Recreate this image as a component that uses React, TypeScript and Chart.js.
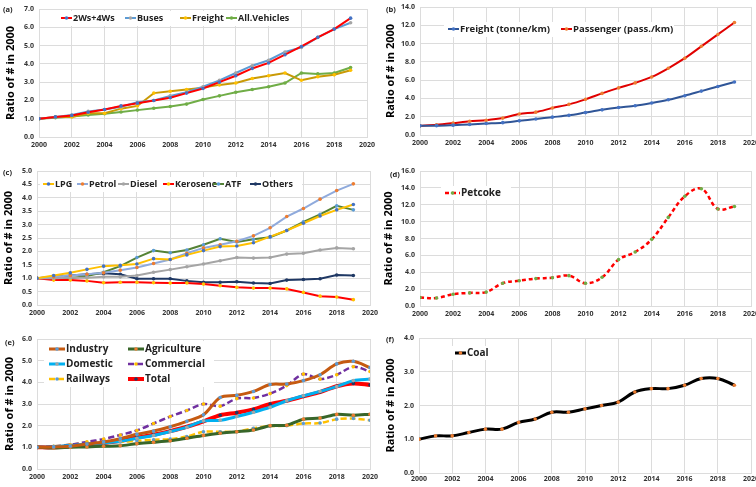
import React, { useEffect, useRef } from "react";
import { Chart, registerables } from "chart.js";
Chart.register(...registerables);

const FONT = "'Open Sans', 'DejaVu Sans', sans-serif";

const years = [2000, 2001, 2002, 2003, 2004, 2005, 2006, 2007, 2008, 2009, 2010, 2011, 2012, 2013, 2014, 2015, 2016, 2017, 2018, 2019];
const yearsE = [...years, 2020];
const xTickLabels = ["2000", "2002", "2004", "2006", "2008", "2010", "2012", "2014", "2016", "2018", "2020"];

// (a) vehicles
const twoFourWs = [1.0, 1.1, 1.18, 1.35, 1.5, 1.7, 1.85, 2.0, 2.15, 2.4, 2.65, 3.0, 3.35, 3.75, 4.05, 4.5, 4.95, 5.45, 5.9, 6.5];
const buses = [1.0, 1.1, 1.2, 1.4, 1.5, 1.65, 1.9, 2.0, 2.25, 2.45, 2.75, 3.1, 3.5, 3.9, 4.2, 4.65, 4.9, 5.45, 5.9, 6.25];
const freightVeh = [1.0, 1.1, 1.1, 1.3, 1.3, 1.55, 1.7, 2.4, 2.5, 2.6, 2.7, 2.85, 2.95, 3.2, 3.35, 3.5, 3.1, 3.3, 3.4, 3.65];
const allVehicles = [1.0, 1.05, 1.12, 1.2, 1.27, 1.37, 1.47, 1.57, 1.67, 1.8, 2.05, 2.25, 2.45, 2.6, 2.75, 2.95, 3.5, 3.45, 3.5, 3.8];

// (b) rail traffic
const freightTkm = [1.0, 1.02, 1.08, 1.15, 1.25, 1.35, 1.55, 1.75, 1.95, 2.15, 2.45, 2.75, 3.0, 3.2, 3.5, 3.85, 4.3, 4.8, 5.3, 5.8];
const passengerPkm = [1.0, 1.12, 1.3, 1.5, 1.62, 1.85, 2.3, 2.5, 2.95, 3.35, 3.9, 4.55, 5.15, 5.7, 6.35, 7.3, 8.4, 9.7, 11.0, 12.3];

// (c) petroleum products
const lpg = [1.0, 1.1, 1.2, 1.33, 1.45, 1.48, 1.53, 1.73, 1.7, 1.87, 2.03, 2.18, 2.2, 2.32, 2.55, 2.78, 3.05, 3.32, 3.55, 3.75];
const petrol = [1.0, 1.05, 1.1, 1.15, 1.2, 1.3, 1.4, 1.55, 1.7, 1.93, 2.13, 2.25, 2.38, 2.58, 2.88, 3.3, 3.6, 3.95, 4.27, 4.52];
const diesel = [1.0, 1.0, 1.02, 1.02, 1.05, 1.05, 1.1, 1.22, 1.32, 1.43, 1.53, 1.65, 1.77, 1.75, 1.77, 1.9, 1.93, 2.05, 2.13, 2.1];
const kerosene = [1.0, 0.93, 0.93, 0.9, 0.83, 0.85, 0.85, 0.83, 0.82, 0.82, 0.78, 0.72, 0.66, 0.63, 0.63, 0.6, 0.47, 0.33, 0.3, 0.2];
const atf = [1.0, 1.0, 1.0, 1.08, 1.22, 1.45, 1.77, 2.03, 1.95, 2.05, 2.25, 2.47, 2.35, 2.45, 2.53, 2.78, 3.1, 3.38, 3.7, 3.55];
const others = [1.0, 1.05, 1.1, 1.15, 1.18, 1.15, 0.98, 0.98, 0.98, 0.9, 0.85, 0.85, 0.87, 0.82, 0.8, 0.93, 0.95, 0.98, 1.12, 1.1];

// (d) petcoke
const petcoke = [1.0, 0.95, 1.4, 1.55, 1.65, 2.7, 3.0, 3.25, 3.35, 3.6, 2.7, 3.4, 5.5, 6.4, 7.9, 10.5, 13.0, 13.9, 11.5, 11.8];

// (e) electricity by sector (2000-2020)
const industry = [1.0, 1.02, 1.05, 1.15, 1.25, 1.4, 1.6, 1.75, 1.95, 2.2, 2.5, 3.3, 3.4, 3.58, 3.9, 3.92, 4.08, 4.35, 4.85, 4.97, 4.68];
const agriculture = [1.0, 0.97, 1.0, 1.02, 1.05, 1.07, 1.17, 1.23, 1.3, 1.42, 1.55, 1.65, 1.72, 1.8, 2.0, 2.02, 2.3, 2.35, 2.52, 2.48, 2.53];
const domestic = [1.0, 1.02, 1.08, 1.15, 1.2, 1.28, 1.42, 1.55, 1.73, 1.93, 2.22, 2.25, 2.42, 2.62, 2.85, 3.15, 3.38, 3.58, 3.8, 4.08, 4.15];
const commercial = [1.0, 1.05, 1.12, 1.25, 1.38, 1.57, 1.78, 2.1, 2.42, 2.7, 3.0, 2.9, 3.25, 3.28, 3.48, 3.85, 4.38, 4.15, 4.35, 4.72, 4.5];
const railways = [1.0, 1.05, 1.12, 1.2, 1.27, 1.25, 1.3, 1.35, 1.38, 1.5, 1.72, 1.72, 1.72, 1.88, 1.98, 2.0, 2.1, 2.12, 2.3, 2.33, 2.25];
const totalE = [1.0, 1.0, 1.05, 1.12, 1.2, 1.3, 1.45, 1.58, 1.75, 1.95, 2.2, 2.48, 2.6, 2.75, 3.0, 3.15, 3.35, 3.55, 3.82, 3.95, 3.88];

// (f) coal
const coal = [1.0, 1.1, 1.1, 1.2, 1.3, 1.3, 1.5, 1.6, 1.8, 1.8, 1.9, 2.0, 2.1, 2.4, 2.5, 2.5, 2.6, 2.8, 2.8, 2.6];

const yTitle = "Ratio of # in 2000";

function pts(xs: number[], ys: number[]) {
  return ys.map((y, i) => ({ x: xs[i], y }));
}

function ds(label: string, xs: number[], ys: number[], color: string, marker: string, width: number, extra: any = {}) {
  return {
    label,
    data: pts(xs, ys),
    borderColor: color,
    backgroundColor: color,
    borderWidth: width,
    pointRadius: 1.8,
    pointBorderWidth: 0,
    pointBackgroundColor: marker,
    pointBorderColor: marker,
    fill: false,
    ...extra,
  };
}

const decorPlugin = {
  id: "decor",
  afterDraw(chart: any, _args: any, opts: any) {
    const ctx = chart.ctx;
    ctx.save();
    if (opts.box) {
      ctx.fillStyle = "#ffffff";
      ctx.fillRect(opts.box[0], opts.box[1], opts.box[2], opts.box[3]);
    }
    (opts.items || []).forEach((it: any) => {
      const d = chart.data.datasets[it.i];
      const len = opts.sample;
      ctx.strokeStyle = d.borderColor;
      ctx.lineWidth = d.borderWidth;
      ctx.setLineDash(d.borderDash || []);
      ctx.beginPath();
      ctx.moveTo(it.x, it.y);
      ctx.lineTo(it.x + len, it.y);
      ctx.stroke();
      ctx.setLineDash([]);
      ctx.fillStyle = d.pointBackgroundColor;
      ctx.beginPath();
      ctx.arc(it.x + len / 2, it.y, 1.8, 0, Math.PI * 2);
      ctx.fill();
      ctx.fillStyle = "#222222";
      ctx.font = `bold ${opts.fontSize}px ${FONT}`;
      ctx.textBaseline = "middle";
      ctx.textAlign = "left";
      ctx.fillText(d.label, it.x + len + 1, it.y + 0.5);
    });
    ctx.fillStyle = "#222222";
    ctx.font = `bold 7.5px ${FONT}`;
    ctx.textBaseline = "middle";
    ctx.textAlign = "left";
    ctx.fillText(opts.tag, opts.tagX, opts.tagY);
    ctx.restore();
  },
};

type Panel = {
  key: string;
  left: number;
  top: number;
  width: number;
  height: number;
  datasets: any[];
  yMax: number;
  yStep: number;
  pad: { left: number; top: number; right: number; bottom: number };
  yW: number;
  xH: number;
  xPad: number;
  decor: any;
};

const panels: Panel[] = [
  {
    key: "a", left: 0, top: 0, width: 378, height: 160,
    datasets: [
      ds("2Ws+4Ws", years, twoFourWs, "#FF0000", "#4472C4", 2),
      ds("Buses", years, buses, "#5B9BD5", "#A5A5A5", 2),
      ds("Freight", years, freightVeh, "#C99A06", "#FFC000", 2),
      ds("All.Vehicles", years, allVehicles, "#70AD47", "#70AD47", 2),
    ],
    yMax: 7, yStep: 1,
    pad: { left: 4, top: 9, right: 11, bottom: 3 }, yW: 35, xH: 20, xPad: 4,
    decor: {
      tag: "(a)", tagX: 3, tagY: 10, fontSize: 9, sample: 11,
      box: [57, 11, 240, 15],
      items: [{ i: 0, x: 61, y: 18 }, { i: 1, x: 125, y: 18 }, { i: 2, x: 180, y: 18 }, { i: 3, x: 226, y: 18 }],
    },
  },
  {
    key: "b", left: 378, top: 0, width: 378, height: 160,
    datasets: [
      ds("Freight (tonne/km)", years, freightTkm, "#2F5597", "#4472C4", 2, { tension: 0.3 }),
      ds("Passenger (pass./km)", years, passengerPkm, "#E00000", "#ED7D31", 2, { tension: 0.3 }),
    ],
    yMax: 14, yStep: 2,
    pad: { left: 6, top: 7, right: 5, bottom: 5 }, yW: 36, xH: 20, xPad: 4,
    decor: {
      tag: "(b)", tagX: 8, tagY: 10, fontSize: 9.5, sample: 11,
      box: [66, 22, 230, 15],
      items: [{ i: 0, x: 70, y: 29 }, { i: 1, x: 183, y: 29 }],
    },
  },
  {
    key: "c", left: 0, top: 160, width: 378, height: 162,
    datasets: [
      ds("LPG", years, lpg, "#FFC000", "#4472C4", 2),
      ds("Petrol", years, petrol, "#8FAADC", "#ED7D31", 2),
      ds("Diesel", years, diesel, "#A5A5A5", "#A5A5A5", 2),
      ds("Kerosene", years, kerosene, "#FF0000", "#FFC000", 2),
      ds("ATF", years, atf, "#548235", "#5B9BD5", 2),
      ds("Others", years, others, "#1F3864", "#1F3864", 2),
    ],
    yMax: 5, yStep: 0.5,
    pad: { left: 2, top: 11, right: 8, bottom: 0 }, yW: 35, xH: 17, xPad: 4,
    decor: {
      tag: "(c)", tagX: 3, tagY: 13, fontSize: 9, sample: 11,
      box: [40, 17, 262, 15],
      items: [
        { i: 0, x: 43, y: 24 }, { i: 1, x: 77, y: 24 }, { i: 2, x: 118, y: 24 },
        { i: 3, x: 163, y: 24 }, { i: 4, x: 213, y: 24 }, { i: 5, x: 250, y: 24 },
      ],
    },
  },
  {
    key: "d", left: 378, top: 160, width: 378, height: 162,
    datasets: [
      ds("Petcoke", years, petcoke, "#FF0000", "#70AD47", 2.5, { tension: 0.4, borderDash: [4, 3] }),
    ],
    yMax: 16, yStep: 2,
    pad: { left: 4, top: 11, right: 5, bottom: 0 }, yW: 38, xH: 16, xPad: 4,
    decor: {
      tag: "(d)", tagX: 12, tagY: 15, fontSize: 10, sample: 15,
      box: [63, 26, 70, 14],
      items: [{ i: 0, x: 67, y: 33 }],
    },
  },
  {
    key: "e", left: 0, top: 322, width: 378, height: 165,
    datasets: [
      ds("Industry", yearsE, industry, "#C55A11", "#5B9BD5", 3, { tension: 0.3 }),
      ds("Agriculture", yearsE, agriculture, "#38662A", "#ED7D31", 3, { tension: 0.3 }),
      ds("Domestic", yearsE, domestic, "#00B0F0", "#A5A5A5", 3, { tension: 0.3 }),
      ds("Commercial", yearsE, commercial, "#7030A0", "#FFC000", 2.5, { tension: 0.3, borderDash: [6, 3] }),
      ds("Railways", yearsE, railways, "#FFC000", "#5B9BD5", 2.5, { tension: 0.3, borderDash: [6, 3] }),
      ds("Total", yearsE, totalE, "#FF0000", "#1F3864", 4, { tension: 0.3 }),
    ],
    yMax: 6, yStep: 1,
    pad: { left: 3, top: 17, right: 8, bottom: 0 }, yW: 34, xH: 18, xPad: 4,
    decor: {
      tag: "(e)", tagX: 5, tagY: 21, fontSize: 10, sample: 16,
      box: [44, 19, 170, 46],
      items: [
        { i: 0, x: 49, y: 27 }, { i: 1, x: 128, y: 27 },
        { i: 2, x: 49, y: 42 }, { i: 3, x: 128, y: 42 },
        { i: 4, x: 49, y: 57 }, { i: 5, x: 128, y: 57 },
      ],
    },
  },
  {
    key: "f", left: 378, top: 322, width: 378, height: 165,
    datasets: [
      ds("Coal", years, coal, "#000000", "#ED7D31", 3, { tension: 0.4 }),
    ],
    yMax: 4, yStep: 1,
    pad: { left: 6, top: 16, right: 5, bottom: 0 }, yW: 35, xH: 14, xPad: 2,
    decor: {
      tag: "(f)", tagX: 8, tagY: 18, fontSize: 10, sample: 11,
      box: [73, 24, 40, 14],
      items: [{ i: 0, x: 77, y: 31 }],
    },
  },
];

function PanelChart({ p }: { p: Panel }) {
  const ref = useRef<HTMLCanvasElement | null>(null);
  useEffect(() => {
    if (!ref.current) return;
    const grid = "#dcdcdc";
    const chart = new Chart(ref.current, {
      type: "line",
      data: { datasets: p.datasets },
      plugins: [decorPlugin],
      options: {
        responsive: false,
        animation: false,
        devicePixelRatio: 1,
        layout: { padding: p.pad },
        plugins: {
          legend: { display: false },
          tooltip: { enabled: false },
          decor: p.decor,
        } as any,
        scales: {
          x: {
            type: "linear",
            min: 2000,
            max: 2020,
            grid: { color: grid, drawTicks: false, lineWidth: 1 },
            border: { color: grid },
            ticks: {
              stepSize: 2,
              autoSkip: false,
              maxRotation: 0,
              padding: p.xPad,
              color: "#333333",
              font: { family: FONT, size: 7, weight: "bold" },
              callback: (v: any) => {
                const s = String(v);
                return xTickLabels.includes(s) ? s : "";
              },
            },
            afterFit: (s: any) => {
              s.height = p.xH;
              s.paddingLeft = 0;
              s.paddingRight = 0;
            },
          },
          y: {
            min: 0,
            max: p.yMax,
            grid: { color: grid, drawTicks: false, lineWidth: 1 },
            border: { color: grid },
            ticks: {
              stepSize: p.yStep,
              padding: 5,
              color: "#333333",
              font: { family: FONT, size: 7, weight: "bold" },
              callback: (v: any) => Number(v).toFixed(1),
            },
            title: {
              display: true,
              text: yTitle,
              color: "#000000",
              font: { family: FONT, size: 11, weight: "bold" },
              padding: { top: 0, bottom: 4 },
            },
            afterFit: (s: any) => {
              s.width = p.yW;
              s.paddingTop = 0;
              s.paddingBottom = 0;
            },
          },
        },
      } as any,
    });
    return () => chart.destroy();
  }, [p]);
  return (
    <div style={{ position: "absolute", left: p.left, top: p.top, width: p.width, height: p.height }}>
      <canvas ref={ref} width={p.width} height={p.height} style={{ width: p.width, height: p.height, display: "block" }} />
    </div>
  );
}

export default function App() {
  return (
    <div style={{ position: "absolute", left: 0, top: 0, width: 756, height: 487, background: "#ffffff", overflow: "hidden" }}>
      {panels.map((p) => (
        <PanelChart key={p.key} p={p} />
      ))}
    </div>
  );
}
